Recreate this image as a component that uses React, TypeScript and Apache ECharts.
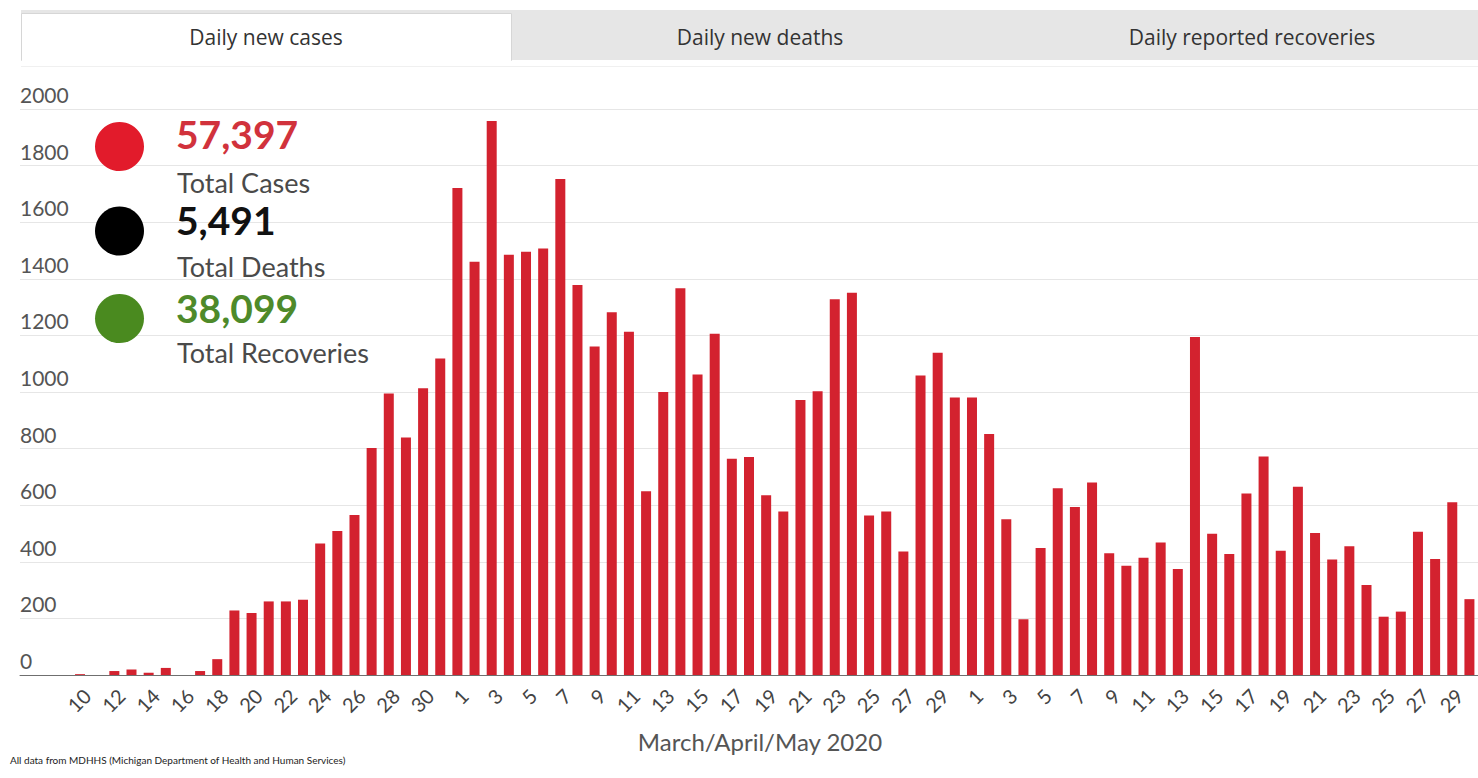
import React, { useEffect, useRef } from "react";
import * as echarts from "echarts";

// three empty slots before 10 March (the source axis starts a little earlier)
const padCategories = ["", "", ""];
const marchDays = ["10","11","12","13","14","15","16","17","18","19","20","21","22","23","24","25","26","27","28","29","30","31"];
const aprilDays = ["1","2","3","4","5","6","7","8","9","10","11","12","13","14","15","16","17","18","19","20","21","22","23","24","25","26","27","28","29","30"];
const mayDays = ["1","2","3","4","5","6","7","8","9","10","11","12","13","14","15","16","17","18","19","20","21","22","23","24","25","26","27","28","29","30"];

const marchCases = [3, 0, 14, 19, 8, 25, 0, 14, 56, 228, 219, 260, 260, 266, 465, 509, 565, 802, 995, 839, 1013, 1118];
const aprilCases = [1721, 1460, 1958, 1485, 1496, 1507, 1753, 1378, 1161, 1282, 1213, 649, 1000, 1367, 1062, 1206, 764, 770, 635, 578, 972, 1003, 1328, 1351, 564, 578, 436, 1058, 1139, 981];
const mayCases = [981, 852, 550, 197, 449, 660, 594, 680, 430, 386, 414, 468, 375, 1194, 499, 428, 641, 772, 439, 665, 502, 408, 455, 318, 206, 224, 506, 410, 610, 268];

const yMin = 0;
const yMax = 2000;
const yStep = 200;

const tabLabels = ["Daily new cases", "Daily new deaths", "Daily reported recoveries"];
const totalValues = ["57,397", "5,491", "38,099"];
const totalLabels = ["Total Cases", "Total Deaths", "Total Recoveries"];
const totalDotColors = ["#e21b2b", "#000000", "#4a8a1f"];
const totalTextColors = ["#d1323c", "#111111", "#4e8a2a"];
const axisTitle = "March/April/May 2020";
const footerText = "All data from MDHHS (Michigan Department of Health and Human Services)";

export default function App() {
  const ref = useRef<HTMLDivElement>(null);
  useEffect(() => {
    document.body.style.margin = "0";
    const chart = echarts.init(ref.current as HTMLDivElement, null, { renderer: "svg" });
    const categories = [...padCategories, ...marchDays, ...aprilDays, ...mayDays];
    const values = [...padCategories.map(() => null), ...marchCases, ...aprilCases, ...mayCases];
    const pad = padCategories.length;

    const dotY = [146.5, 231, 318.5];
    const valueY = [134, 219.5, 308];
    const labelY = [182, 266, 352];

    const graphics: any[] = [
      { type: "rect", z: 50, shape: { x: 21, y: 10, width: 1457, height: 50 }, style: { fill: "#e6e6e6" }, silent: true },
      { type: "rect", z: 51, shape: { x: 21.5, y: 13.5, width: 490, height: 47 }, style: { fill: "#ffffff", stroke: "#d6d6d6", lineWidth: 1 }, silent: true },
      { type: "rect", z: 52, shape: { x: 22, y: 59, width: 489, height: 3 }, style: { fill: "#ffffff" }, silent: true },
      { type: "line", z: 50, shape: { x1: 21, y1: 66.5, x2: 1478, y2: 66.5 }, style: { stroke: "#f0f0f0", lineWidth: 1 }, silent: true },
      ...tabLabels.map((t, i) => ({
        type: "text",
        z: 53,
        x: [266, 760, 1252][i],
        y: 37,
        style: { text: t, fill: "#333333", font: "21px 'Open Sans', sans-serif", textAlign: "center", textVerticalAlign: "middle" },
        silent: true,
      })),
      ...totalValues.map((v, i) => ({
        type: "group",
        children: [
          { type: "circle", z: 100, shape: { cx: 119.5, cy: dotY[i], r: 24.5 }, style: { fill: totalDotColors[i] } },
          { type: "text", z: 100, x: 176, y: valueY[i], style: { text: v, fill: totalTextColors[i], font: "bold 39px Lato, sans-serif", textAlign: "left", textVerticalAlign: "middle" } },
          { type: "text", z: 100, x: 177, y: labelY[i], style: { text: totalLabels[i], fill: "#4a4a4a", font: "27px Lato, sans-serif", textAlign: "left", textVerticalAlign: "middle" } },
        ],
      })),
      {
        type: "text",
        z: 50,
        x: 10,
        y: 760,
        style: { text: footerText, fill: "#222222", font: "10px Lato, sans-serif", textAlign: "left", textVerticalAlign: "middle" },
        silent: true,
      },
    ];

    chart.setOption({
      animation: false,
      backgroundColor: "#ffffff",
      grid: { left: 20, right: 0, top: 109, bottom: 103, containLabel: false },
      xAxis: {
        type: "category",
        data: categories,
        boundaryGap: true,
        axisLine: { show: true, lineStyle: { color: "#6f6f6f", width: 1 } },
        axisTick: { show: false },
        axisLabel: {
          interval: (index: number) => index >= pad && (index - pad) % 2 === 0,
          rotate: 45,
          margin: 10,
          align: "right",
          verticalAlign: "top",
          fontSize: 20,
          fontFamily: "Lato, sans-serif",
          color: "#444444",
        },
        name: axisTitle,
        nameLocation: "middle",
        nameGap: 54,
        nameTextStyle: { fontSize: 24, fontFamily: "Lato, sans-serif", color: "#555555", padding: [0, 0, 0, 22] },
      },
      yAxis: {
        type: "value",
        min: yMin,
        max: yMax,
        interval: yStep,
        axisLine: { show: false },
        axisTick: { show: false },
        splitLine: { show: true, lineStyle: { color: "#e6e6e6", width: 1 } },
        axisLabel: {
          inside: true,
          align: "left",
          verticalAlign: "bottom",
          margin: 0,
          padding: [0, 0, 4, 0],
          fontSize: 21,
          fontFamily: "Lato, sans-serif",
          color: "#555555",
          formatter: (v: number) => String(v),
        },
      },
      series: [
        {
          type: "bar",
          data: values,
          barWidth: 10,
          itemStyle: { color: "#d3222f" },
          z: 2,
        },
      ],
      graphic: graphics,
    });
    return () => chart.dispose();
  }, []);
  return <div ref={ref} style={{ width: 1478, height: 778 }} />;
}
